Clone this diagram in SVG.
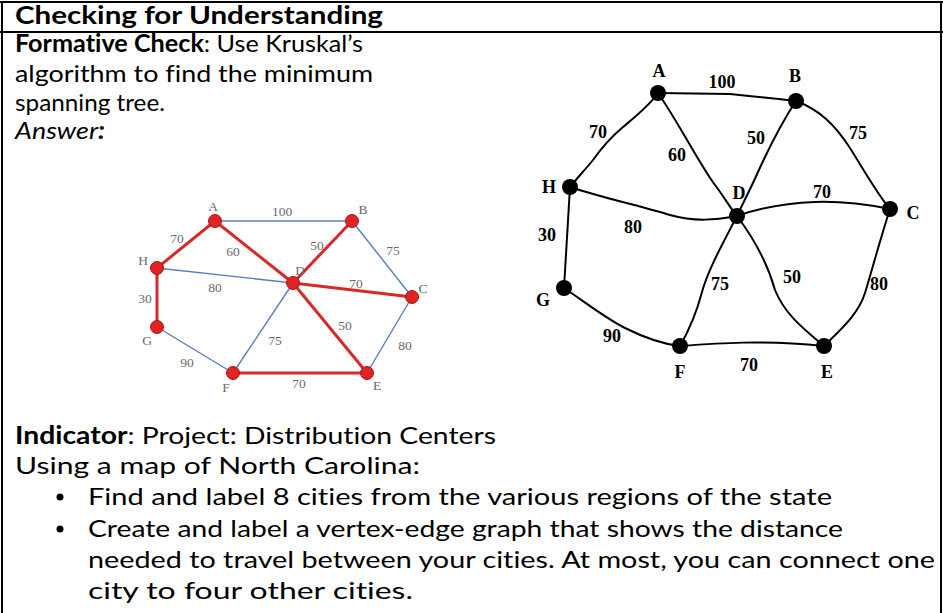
<svg xmlns="http://www.w3.org/2000/svg" width="943" height="613" viewBox="0 0 943 613">
<style>
.t{font-family:Lato,"Liberation Sans",sans-serif;font-size:24px;fill:#000;font-variant-ligatures:none}
.b{font-weight:bold}
.sl{font-family:"Liberation Serif","DejaVu Serif",serif;font-size:13.5px;fill:#6a6a6a;text-anchor:middle;dominant-baseline:central}
.rl{font-family:"Liberation Serif","DejaVu Serif",serif;font-size:18px;font-weight:bold;fill:#000;text-anchor:middle;dominant-baseline:central}
.be{stroke:#5a7dbd;stroke-width:1.4;fill:none}
.re{stroke:#d42a2a;stroke-width:3;fill:none}
.sn{fill:#e02323;stroke:#a81818;stroke-width:1}
.ke{stroke:#000;stroke-width:2;fill:none;stroke-linecap:round}
.kn{fill:#000}
.frame{stroke:#000;stroke-width:2;fill:none}
</style>
<rect width="943" height="613" fill="#fff"/>
<g id="table">
<line class="frame" x1="0" y1="2" x2="943" y2="2"/>
<line class="frame" x1="0" y1="32" x2="943" y2="32"/>
<line class="frame" x1="2" y1="2" x2="2" y2="613"/>
<line class="frame" x1="941" y1="2" x2="941" y2="613"/>
</g>
<g id="text">
<text class="t b" x="15" y="24" textLength="368" lengthAdjust="spacingAndGlyphs">Checking for Understanding</text>
<text class="t" x="15" y="52" textLength="348" lengthAdjust="spacingAndGlyphs"><tspan class="b">Formative Check</tspan>: Use Kruskal’s</text>
<text class="t" x="15" y="82" textLength="358" lengthAdjust="spacingAndGlyphs">algorithm to find the minimum</text>
<text class="t" x="15" y="111" textLength="150" lengthAdjust="spacingAndGlyphs">spanning tree.</text>
<text class="t" x="15" y="139" textLength="90" lengthAdjust="spacingAndGlyphs" font-style="italic">Answer<tspan class="b">:</tspan></text>
<text class="t" x="15" y="444" textLength="481" lengthAdjust="spacingAndGlyphs"><tspan class="b">Indicator</tspan>: Project: Distribution Centers</text>
<text class="t" x="15" y="474" textLength="405" lengthAdjust="spacingAndGlyphs">Using a map of North Carolina:</text>
<circle cx="60" cy="497" r="3.5"/>
<circle cx="60" cy="529" r="3.5"/>
<text class="t" x="88" y="505" textLength="744" lengthAdjust="spacingAndGlyphs">Find and label 8 cities from the various regions of the state</text>
<text class="t" x="88" y="537" textLength="755" lengthAdjust="spacingAndGlyphs">Create and label a vertex-edge graph that shows the distance</text>
<text class="t" x="88" y="568" textLength="847" lengthAdjust="spacingAndGlyphs">needed to travel between your cities. At most, you can connect one</text>
<text class="t" x="88" y="599" textLength="325" lengthAdjust="spacingAndGlyphs">city to four other cities.</text>
</g>
<g id="answer-connectors">
<line class="be" x1="215" y1="221" x2="352" y2="221"/>
<line class="be" x1="352" y1="221" x2="412" y2="297"/>
<line class="be" x1="157" y1="268" x2="293" y2="283"/>
<line class="be" x1="293" y1="283" x2="233" y2="373"/>
<line class="be" x1="157" y1="327" x2="233" y2="373"/>
<line class="be" x1="412" y1="297" x2="367" y2="373"/>
<line class="re" x1="215" y1="221" x2="157" y2="268"/>
<line class="re" x1="215" y1="221" x2="293" y2="283"/>
<line class="re" x1="352" y1="221" x2="293" y2="283"/>
<line class="re" x1="293" y1="283" x2="412" y2="297"/>
<line class="re" x1="293" y1="283" x2="367" y2="373"/>
<line class="re" x1="157" y1="268" x2="157" y2="327"/>
<line class="re" x1="233" y1="373" x2="367" y2="373"/>
</g>
<g id="answer-edge-labels">
<text class="sl" x="282" y="211">100</text>
<text class="sl" x="177" y="238">70</text>
<text class="sl" x="233" y="251">60</text>
<text class="sl" x="317" y="245">50</text>
<text class="sl" x="393" y="250">75</text>
<text class="sl" x="215" y="287">80</text>
<text class="sl" x="356" y="283">70</text>
<text class="sl" x="145" y="298">30</text>
<text class="sl" x="275" y="340">75</text>
<text class="sl" x="345" y="325">50</text>
<text class="sl" x="405" y="345">80</text>
<text class="sl" x="187" y="362">90</text>
<text class="sl" x="299" y="383">70</text>
</g>
<g id="sA"><circle class="sn" cx="215" cy="221" r="6.5"/><text class="sl" x="213" y="206">A</text></g>
<g id="sB"><circle class="sn" cx="352" cy="221" r="6.5"/><text class="sl" x="363" y="209">B</text></g>
<g id="sH"><circle class="sn" cx="157" cy="268" r="6.5"/><text class="sl" x="143" y="260">H</text></g>
<g id="sD"><circle class="sn" cx="293" cy="283" r="6.5"/><text class="sl" x="300" y="270">D</text></g>
<g id="sC"><circle class="sn" cx="412" cy="297" r="6.5"/><text class="sl" x="423" y="288">C</text></g>
<g id="sG"><circle class="sn" cx="157" cy="327" r="6.5"/><text class="sl" x="147" y="340">G</text></g>
<g id="sF"><circle class="sn" cx="233" cy="373" r="6.5"/><text class="sl" x="226" y="387">F</text></g>
<g id="sE"><circle class="sn" cx="367" cy="373" r="6.5"/><text class="sl" x="377" y="385">E</text></g>
<g id="question-connectors">
<path class="ke" d="M658,93 L730,94 Q760,97 796,101"/>
<path class="ke" d="M658,93 C650,105 635,117 623,127 C610,138 600,150 593,160 C585,170 577,178 570,187"/>
<path class="ke" d="M658,93 C680,125 700,165 715,185 C725,198 730,208 737,216"/>
<path class="ke" d="M796,101 C780,125 768,150 758,172 C750,190 742,205 737,216"/>
<path class="ke" d="M796,101 C820,110 835,125 850,148 C865,172 878,195 890,209"/>
<path class="ke" d="M570,187 C600,197 640,206 670,215 C695,222 715,220 737,216"/>
<path class="ke" d="M737,216 C760,208 785,203 815,202 C845,201 870,205 890,209"/>
<path class="ke" d="M570,187 C568,220 566,255 564,288"/>
<path class="ke" d="M564,288 C585,302 605,318 625,328 C645,338 662,344 680,346"/>
<path class="ke" d="M737,216 C722,245 708,270 702,292 C696,315 688,332 680,346"/>
<path class="ke" d="M737,216 C755,240 768,265 775,290 C785,315 805,330 824,346"/>
<path class="ke" d="M890,209 C880,240 872,270 865,293 C858,315 840,330 824,346"/>
<path class="ke" d="M680,346 C720,343 760,340 824,346"/>
</g>
<g id="question-edge-labels">
<text class="rl" x="722" y="82">100</text>
<text class="rl" x="598" y="132">70</text>
<text class="rl" x="677" y="155">60</text>
<text class="rl" x="756" y="138">50</text>
<text class="rl" x="858" y="133">75</text>
<text class="rl" x="822" y="192">70</text>
<text class="rl" x="547" y="235">30</text>
<text class="rl" x="633" y="227">80</text>
<text class="rl" x="720" y="284">75</text>
<text class="rl" x="792" y="277">50</text>
<text class="rl" x="879" y="284">80</text>
<text class="rl" x="612" y="336">90</text>
<text class="rl" x="749" y="365">70</text>
</g>
<g id="qA"><circle class="kn" cx="658" cy="93" r="8"/><text class="rl" x="659" y="71">A</text></g>
<g id="qB"><circle class="kn" cx="796" cy="101" r="8"/><text class="rl" x="795" y="76">B</text></g>
<g id="qH"><circle class="kn" cx="570" cy="187" r="8"/><text class="rl" x="549" y="187">H</text></g>
<g id="qD"><circle class="kn" cx="737" cy="216" r="8"/><text class="rl" x="739" y="193">D</text></g>
<g id="qC"><circle class="kn" cx="890" cy="209" r="8"/><text class="rl" x="913" y="213">C</text></g>
<g id="qG"><circle class="kn" cx="564" cy="288" r="8"/><text class="rl" x="543" y="300">G</text></g>
<g id="qF"><circle class="kn" cx="680" cy="346" r="8"/><text class="rl" x="680" y="372">F</text></g>
<g id="qE"><circle class="kn" cx="824" cy="346" r="8"/><text class="rl" x="827" y="372">E</text></g>
</svg>
